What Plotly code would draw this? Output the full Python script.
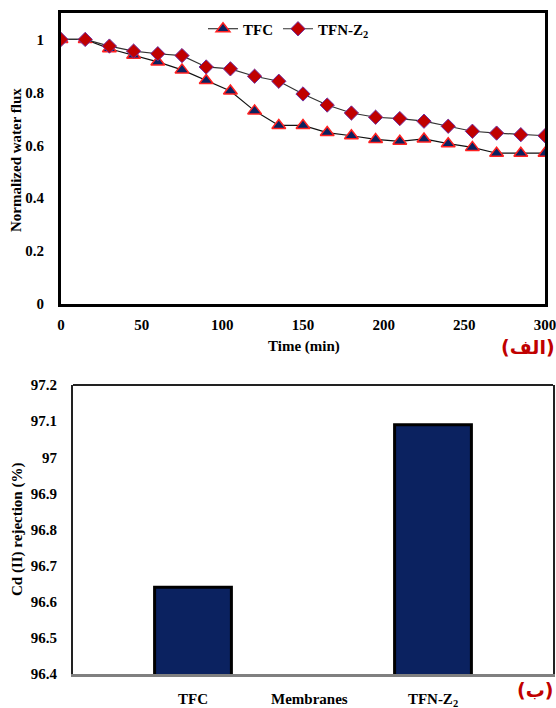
import plotly.graph_objects as go

# ---- data: flux decline (top panel) ----
time_min = [0, 15, 30, 45, 60, 75, 90, 105, 120, 135, 150, 165, 180, 195, 210, 225, 240, 255, 270, 285, 300]
flux_tfc = [1.0, 1.0, 0.965, 0.94, 0.915, 0.885, 0.845, 0.805, 0.73, 0.675, 0.675, 0.648, 0.636, 0.622, 0.615, 0.624, 0.606, 0.592, 0.57, 0.57, 0.57]
flux_tfn = [1.0, 1.0, 0.975, 0.956, 0.946, 0.939, 0.896, 0.889, 0.861, 0.842, 0.794, 0.752, 0.722, 0.706, 0.701, 0.691, 0.672, 0.653, 0.646, 0.64, 0.636]

# ---- data: Cd(II) rejection (bottom panel) ----
membranes = ["TFC", "TFN-Z<sub>2</sub>"]
rejection = [96.64, 97.09]

W, H = 556, 708
FONT = "Liberation Serif, Times New Roman, serif"
BLACK = "#000000"
NAVY = "#0B2260"
RED = "#C00000"

fig = go.Figure()

fig.add_trace(go.Scatter(
    x=time_min, y=flux_tfc, name="TFC", mode="lines+markers",
    line=dict(color="#111111", width=1.2),
    marker=dict(symbol="triangle-up", size=12, color=NAVY, line=dict(color="#FF2020", width=1.5)),
    xaxis="x", yaxis="y", legend="legend"))
fig.add_trace(go.Scatter(
    x=time_min, y=flux_tfn, name="TFN-Z<sub>2</sub>", mode="lines+markers",
    line=dict(color="#333333", width=1.2),
    marker=dict(symbol="diamond", size=11, color=RED, line=dict(color="#7030A0", width=1)),
    xaxis="x", yaxis="y", legend="legend2"))

fig.add_trace(go.Bar(
    x=membranes, y=rejection, width=0.32, showlegend=False,
    marker=dict(color=NAVY, line=dict(color=BLACK, width=3)),
    xaxis="x2", yaxis="y2"))

def px_x(p):
    return p / W

def px_y(p):
    return (H - p) / H

tick_font = dict(family=FONT, size=15, color=BLACK, weight="bold")

common = dict(showgrid=False, zeroline=False, showline=True, ticks="",
              tickfont=tick_font, ticklabeloverflow="allow", automargin=False)

legend_common = dict(orientation="h", xanchor="left", yanchor="middle", y=px_y(29),
                     bgcolor="rgba(0,0,0,0)", borderwidth=0, itemwidth=30,
                     font=dict(family=FONT, size=15, color=BLACK, weight="bold"))

fig.update_layout(
    width=W, height=H,
    margin=dict(l=0, r=0, t=0, b=0, autoexpand=False),
    paper_bgcolor="white", plot_bgcolor="white",
    font=dict(family=FONT, color=BLACK),
    xaxis=dict(domain=[px_x(61), px_x(545)], range=[0, 300], dtick=50,
               linecolor=BLACK, linewidth=3, mirror=True, anchor="y",
               ticklabelstandoff=5, **common),
    yaxis=dict(domain=[px_y(304), px_y(13)], range=[0, 1.1], dtick=0.2,
               linecolor=BLACK, linewidth=3, mirror=True, anchor="x",
               ticklabelstandoff=11, **common),
    xaxis2=dict(domain=[px_x(73), px_x(553)], linecolor="#808080", linewidth=3,
                anchor="y2", ticklabelstandoff=9, **common),
    yaxis2=dict(domain=[px_y(674), px_y(385)], range=[96.4, 97.2], dtick=0.1,
                linecolor="#222222", linewidth=2, mirror=True, anchor="x2",
                ticklabelstandoff=11, **common),
    legend=dict(x=px_x(203), **legend_common),
    legend2=dict(x=px_x(278), **legend_common),
)

# top border of the lower panel
fig.add_shape(type="line", xref="x2 domain", yref="y2 domain", x0=0, x1=1, y0=1, y1=1,
              line=dict(color="#222222", width=2))

title_font = dict(family=FONT, size=15, color=BLACK, weight="bold")
ann = [
    dict(text="Time (min)", x=px_x(304), y=px_y(347)),
    dict(text="Normalized water flux", x=px_x(16), y=px_y(160), textangle=-90),
    dict(text="Membranes", x=px_x(309), y=px_y(699)),
    dict(text="Cd (II) rejection (%)", x=px_x(17), y=px_y(530), textangle=-90),
]
for a in ann:
    fig.add_annotation(xref="paper", yref="paper", showarrow=False,
                       xanchor="center", yanchor="middle", font=title_font, **a)

fig.add_annotation(text="(الف)", xref="paper", yref="paper", x=px_x(528), y=px_y(347),
                   showarrow=False, xanchor="center", yanchor="middle",
                   font=dict(family="DejaVu Sans", size=19, color=RED, weight="bold"))
fig.add_annotation(text="(ب)", xref="paper", yref="paper", x=px_x(535), y=px_y(690),
                   showarrow=False, xanchor="center", yanchor="middle",
                   font=dict(family="DejaVu Sans", size=19, color=RED, weight="bold"))

fig.write_html("out.html")
